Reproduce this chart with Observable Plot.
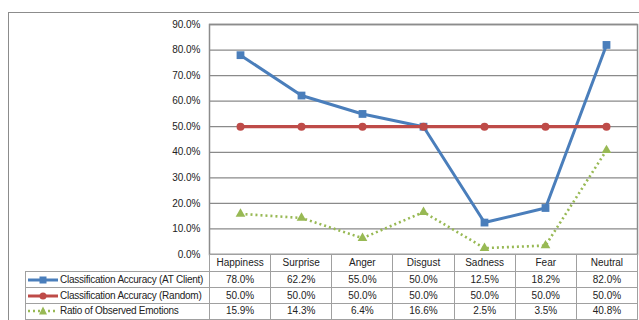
<!DOCTYPE html>
<html><head><meta charset="utf-8">
<script src="https://cdn.jsdelivr.net/npm/d3@7"></script>
<script src="https://cdn.jsdelivr.net/npm/@observablehq/plot@0.6"></script>
<style>
html,body{margin:0;padding:0;background:#fff;width:639px;height:320px;overflow:hidden;font-family:"Liberation Sans",Arial,sans-serif;}
#wrap{position:relative;width:639px;height:320px;overflow:hidden;}
#outer{position:absolute;left:8px;top:12px;width:700px;height:400px;border-left:1.5px solid #8c8c8c;border-top:1.5px solid #8c8c8c;}
#chart{position:absolute;left:0;top:0;}
table{position:absolute;border-collapse:collapse;table-layout:fixed;font-size:10px;color:#222;}
td{border:1.5px solid #a0a0a0;text-align:center;padding:0;white-space:nowrap;overflow:hidden;line-height:10px;background:#fff;}
td.blank{border:none;background:transparent;}
td.leg{text-align:left;}
td.leg div{display:flex;align-items:center;letter-spacing:-0.25px;}
td.leg svg{flex:none;margin-left:1px;margin-right:1px;}
</style></head>
<body>
<div id="wrap"><div id="outer"></div><div id="chart"></div></div>
<script>
const categories = ["Happiness","Surprise","Anger","Disgust","Sadness","Fear","Neutral"];
const accClient = [78.0, 62.2, 55.0, 50.0, 12.5, 18.2, 82.0];
const accRandom = [50.0, 50.0, 50.0, 50.0, 50.0, 50.0, 50.0];
const ratioObserved = [15.9, 14.3, 6.4, 16.6, 2.5, 3.5, 40.8];
const seriesNames = ["Classification Accuracy (AT Client)", "Classification Accuracy (Random)", "Ratio of Observed Emotions"];
const yTicks = [0, 10, 20, 30, 40, 50, 60, 70, 80, 90];

const colors = ["#4a7ebb", "#be4b48", "#98b954"];
const seriesValues = [accClient, accRandom, ratioObserved];
const fmt = v => v.toFixed(1) + "%";

const W = 639, H = 266, ML = 209, MR = 2, MT = 24, MB = 12;
const rows = seriesValues.map((vals, s) => categories.map((c, i) => ({cat: c, v: vals[i], s})));

const chart = Plot.plot({
  width: W, height: H,
  marginLeft: ML, marginRight: MR, marginTop: MT, marginBottom: MB,
  style: {fontSize: "10px", fontFamily: "'Liberation Sans', Arial, sans-serif", color: "#222", background: "transparent"},
  x: {type: "point", domain: categories, padding: 0.5, axis: null},
  y: {domain: [0, 90], ticks: yTicks, tickFormat: fmt, tickSize: 0, tickPadding: 9, label: null},
  marks: [
    Plot.ruleY(yTicks, {stroke: "#8a8a8a", strokeWidth: 1.3}),
    Plot.frame({stroke: "#8c8c8c", strokeWidth: 1.5}),
    Plot.line(rows[0], {x: "cat", y: "v", stroke: colors[0], strokeWidth: 3}),
    Plot.dot(rows[0], {x: "cat", y: "v", symbol: "square", r: 4.4, fill: colors[0]}),
    Plot.line(rows[1], {x: "cat", y: "v", stroke: colors[1], strokeWidth: 3.2}),
    Plot.dot(rows[1], {x: "cat", y: "v", symbol: "circle", r: 4, fill: colors[1]}),
    Plot.line(rows[2], {x: "cat", y: "v", stroke: colors[2], strokeWidth: 2.6, strokeDasharray: "2,3", strokeLinecap: "butt"}),
    Plot.dot(rows[2], {x: "cat", y: "v", symbol: "triangle", r: 3.6, fill: colors[2]})
  ]
});
document.getElementById("chart").appendChild(chart);

// data table below the plot, aligned to the x scale
const colW = (W - ML - MR) / categories.length;
const legW = 184;
const table = document.createElement("table");
table.style.left = (ML - legW) + "px";
table.style.top = (H - MB) + "px";
table.style.width = (legW + colW * categories.length) + "px";
const cg = document.createElement("colgroup");
[legW, ...categories.map(() => colW)].forEach(w => {
  const col = document.createElement("col"); col.style.width = w + "px"; cg.appendChild(col);
});
table.appendChild(cg);
const hr = table.insertRow();
hr.style.height = "17px";
const blank = hr.insertCell(); blank.className = "blank";
categories.forEach(c => { const td = hr.insertCell(); td.textContent = c; });

function keySvg(s) {
  const svg = d3.create("svg").attr("width", 32).attr("height", 10);
  const line = svg.append("line").attr("x1", 1).attr("x2", 31).attr("y1", 5).attr("y2", 5)
    .attr("stroke", colors[s]).attr("stroke-width", s === 2 ? 2.6 : 3);
  if (s === 2) line.attr("stroke-dasharray", "2,3");
  if (s === 0) svg.append("rect").attr("x", 12.5).attr("y", 1.5).attr("width", 7).attr("height", 7).attr("fill", colors[0]);
  if (s === 1) svg.append("circle").attr("cx", 16).attr("cy", 5).attr("r", 3.5).attr("fill", colors[1]);
  if (s === 2) svg.append("path").attr("d", "M16,0.5L20,8.5L12,8.5Z").attr("fill", colors[2]);
  return svg.node();
}
const rowH = [16, 16, 15.5];
seriesNames.forEach((name, s) => {
  const tr = table.insertRow();
  tr.style.height = rowH[s] + "px";
  const lc = tr.insertCell(); lc.className = "leg";
  const d = document.createElement("div");
  d.appendChild(keySvg(s));
  const sp = document.createElement("span"); sp.textContent = name; d.appendChild(sp);
  lc.appendChild(d);
  seriesValues[s].forEach(v => { const td = tr.insertCell(); td.textContent = fmt(v); });
});
document.getElementById("wrap").appendChild(table);
</script>
</body></html>
